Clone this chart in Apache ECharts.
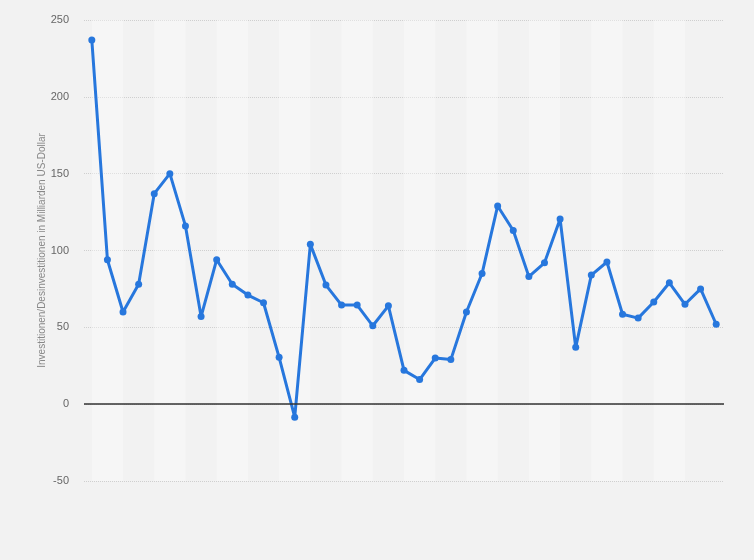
<!DOCTYPE html>
<html>
<head>
<meta charset="utf-8">
<script src="https://cdn.jsdelivr.net/npm/echarts@6/dist/echarts.min.js"></script>
<style>
  html, body { margin: 0; padding: 0; background: #f2f2f2; }
  #chart { width: 754px; height: 560px; }
</style>
</head>
<body>
<div id="chart"></div>
<script>
// Investitionen/Desinvestitionen (Mrd. US-Dollar), 41 Zeitpunkte
const categories = ['1', '2', '3', '4', '5', '6', '7', '8', '9', '10',
  '11', '12', '13', '14', '15', '16', '17', '18', '19', '20',
  '21', '22', '23', '24', '25', '26', '27', '28', '29', '30',
  '31', '32', '33', '34', '35', '36', '37', '38', '39', '40', '41']
const values = [237, 94, 60, 78, 137, 150, 116, 57, 94, 78,
  71, 66, 30.5, -8.5, 104, 77.5, 64.5, 64.5, 51, 64,
  22, 16, 30, 29, 60, 85, 129, 113, 83, 92,
  120.5, 37, 84, 92.5, 58.5, 56, 66.5, 79, 65, 75, 52]
const yTicks = { min: -50, max: 250, interval: 50 }
const yAxisName = 'Investitionen/Desinvestitionen in Milliarden US-Dollar'

// helle Streifen im Hintergrund, jeweils von Punkt i bis i+2
const bands = []
for (let i = 0; i + 2 < categories.length; i += 4) {
  bands.push([{ xAxis: categories[i] }, { xAxis: categories[i + 2] }])
}

const chart = echarts.init(document.getElementById('chart'))
chart.setOption({
  backgroundColor: '#f2f2f2',
  textStyle: { fontFamily: 'Liberation Sans, Arial, sans-serif' },
  grid: { left: 84, right: 30, top: 20, bottom: 79 },
  xAxis: {
    type: 'category',
    data: categories,
    boundaryGap: true,
    axisLine: { show: false },
    axisTick: { show: false },
    axisLabel: { show: false },
    splitLine: { show: false }
  },
  yAxis: {
    type: 'value',
    min: yTicks.min,
    max: yTicks.max,
    interval: yTicks.interval,
    name: yAxisName,
    nameLocation: 'middle',
    nameGap: 37,
    nameMoveOverlap: false,
    nameTextStyle: { color: '#888', fontSize: 10 },
    axisLine: { show: false },
    axisTick: { show: false },
    axisLabel: { color: '#666', fontSize: 11, margin: 15 },
    splitLine: { lineStyle: { color: '#cfcfcf', type: 'dotted', width: 1 } }
  },
  series: [{
    type: 'line',
    data: values,
    symbol: 'circle',
    symbolSize: 7,
    lineStyle: { color: '#2777dd', width: 3 },
    itemStyle: { color: '#2777dd' },
    animation: false,
    markArea: {
      silent: true,
      itemStyle: { color: 'rgba(255,255,255,0.35)' },
      data: bands
    },
    markLine: {
      silent: true,
      symbol: 'none',
      label: { show: false },
      lineStyle: { color: '#333', type: 'solid', width: 1.5 },
      data: [{ yAxis: 0 }]
    }
  }]
})
</script>
</body>
</html>
